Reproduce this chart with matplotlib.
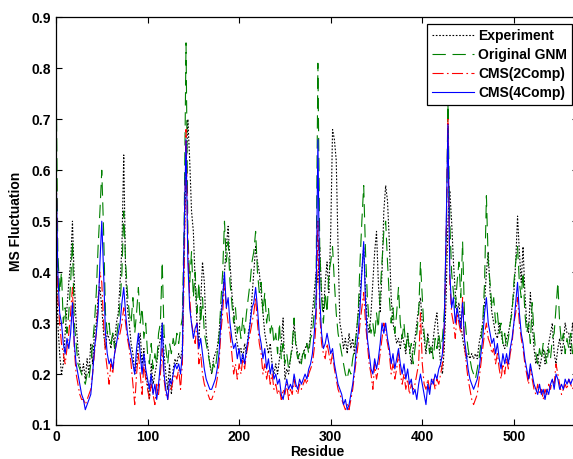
import numpy as np
import matplotlib
matplotlib.use('Agg')
import matplotlib.pyplot as plt

# residue index (every 2nd residue)
residue = np.arange(0, 568, 2)

experiment = [
    .45, .30, .24, .20, .22, .28, .33, .38, .42, .50,
    .38, .30, .25, .22, .20, .22, .19, .23, .20, .26,
    .22, .28, .30, .35, .37, .33, .28, .25, .28, .27,
    .25, .28, .26, .30, .32, .38, .45, .63, .40, .33,
    .30, .26, .24, .20, .22, .26, .28, .22, .25, .20,
    .18, .15, .22, .18, .20, .22, .25, .27, .30, .24,
    .20, .17, .22, .16, .21, .23, .22, .24, .23, .25,
    .45, .60, .70, .62, .52, .48, .38, .30, .26, .34,
    .42, .38, .28, .25, .22, .20, .23, .24, .25, .28,
    .32, .35, .40, .45, .49, .42, .36, .32, .28, .26,
    .24, .25, .23, .26, .24, .28, .30, .35, .40, .45,
    .42, .40, .36, .32, .28, .26, .24, .26, .22, .20,
    .22, .20, .23, .26, .31, .19, .21, .20, .23, .25,
    .30, .26, .24, .22, .23, .24, .25, .26, .25, .28,
    .32, .36, .40, .38, .45, .36, .32, .38, .42, .36,
    .48, .68, .66, .62, .45, .30, .28, .25, .27, .24,
    .28, .25, .27, .24, .28, .32, .36, .40, .45, .36,
    .30, .28, .32, .38, .44, .48, .38, .32, .40, .52,
    .57, .54, .46, .35, .30, .28, .26, .27, .25, .28,
    .26, .24, .28, .25, .22, .25, .27, .30, .33, .35,
    .30, .27, .24, .28, .25, .24, .27, .30, .32, .26,
    .22, .20, .25, .35, .50, .56, .50, .42, .36, .32,
    .34, .30, .27, .25, .23, .24, .23, .24, .23, .24,
    .23, .26, .28, .30, .34, .40, .44, .36, .32, .30,
    .28, .27, .30, .28, .26, .25, .27, .28, .30, .33,
    .36, .42, .51, .44, .38, .45, .36, .30, .28, .36,
    .30, .25, .22, .24, .21, .23, .25, .22, .24, .26,
    .28, .30, .24, .22, .25, .27, .24, .26, .30, .28,
    .28, .24, .30, .27,
]

original_gnm = [
    .82, .44, .36, .40, .30, .33, .28, .32, .38, .46,
    .30, .26, .22, .21, .20, .19, .18, .20, .19, .22,
    .26, .30, .36, .45, .52, .60, .48, .32, .28, .30,
    .26, .28, .25, .27, .30, .34, .40, .52, .42, .36,
    .32, .30, .35, .28, .32, .37, .30, .33, .27, .30,
    .24, .22, .26, .21, .24, .22, .28, .30, .42, .28,
    .25, .22, .26, .24, .27, .25, .28, .26, .29, .31,
    .50, .85, .48, .38, .44, .35, .40, .32, .38, .30,
    .35, .28, .26, .24, .22, .20, .22, .21, .24, .27,
    .34, .40, .50, .42, .46, .38, .34, .30, .33, .28,
    .30, .27, .31, .28, .32, .35, .38, .42, .44, .48,
    .40, .36, .38, .32, .36, .30, .33, .28, .30, .26,
    .28, .24, .30, .23, .26, .22, .24, .21, .23, .26,
    .31, .25, .23, .24, .22, .25, .23, .26, .24, .27,
    .28, .32, .38, .81, .45, .35, .30, .36, .32, .40,
    .42, .45, .38, .32, .28, .26, .24, .22, .20, .19,
    .21, .20, .23, .25, .28, .32, .42, .50, .57, .44,
    .35, .30, .28, .30, .27, .32, .29, .36, .42, .48,
    .50, .42, .35, .30, .33, .28, .32, .37, .30, .27,
    .30, .25, .28, .24, .26, .22, .25, .28, .32, .42,
    .35, .28, .25, .27, .24, .26, .23, .27, .25, .28,
    .25, .27, .32, .45, .73, .50, .40, .36, .33, .38,
    .42, .35, .46, .32, .28, .25, .23, .21, .20, .19,
    .21, .23, .26, .30, .38, .55, .42, .38, .33, .35,
    .30, .32, .28, .30, .26, .28, .25, .27, .30, .32,
    .38, .42, .45, .38, .35, .40, .32, .28, .30, .26,
    .34, .28, .24, .22, .25, .23, .26, .24, .22, .25,
    .23, .27, .28, .33, .38, .30, .26, .28, .24, .27,
    .25, .28, .24, .26,
]

cms_2comp = [
    .66, .35, .30, .26, .24, .22, .25, .28, .32, .37,
    .25, .20, .18, .16, .15, .15, .14, .15, .16, .17,
    .20, .24, .28, .34, .40, .38, .30, .24, .21, .18,
    .22, .20, .24, .26, .27, .28, .30, .33, .30, .27,
    .25, .22, .18, .14, .20, .24, .20, .16, .22, .19,
    .17, .15, .18, .16, .14, .18, .16, .20, .25, .19,
    .16, .15, .18, .17, .19, .20, .19, .21, .17, .22,
    .40, .68, .45, .35, .30, .28, .26, .30, .22, .24,
    .20, .18, .17, .16, .15, .15, .16, .17, .19, .22,
    .28, .32, .38, .33, .30, .28, .24, .20, .22, .19,
    .22, .20, .23, .21, .24, .26, .28, .30, .32, .35,
    .30, .26, .24, .20, .22, .19, .21, .18, .20, .17,
    .18, .16, .17, .15, .17, .16, .18, .15, .17, .16,
    .19, .17, .16, .18, .17, .18, .19, .18, .20, .21,
    .22, .25, .30, .50, .32, .26, .24, .23, .26, .24,
    .22, .24, .21, .19, .17, .16, .15, .14, .13, .14,
    .13, .15, .17, .20, .23, .26, .30, .33, .36, .30,
    .26, .22, .20, .17, .22, .19, .21, .24, .27, .30,
    .28, .26, .24, .20, .22, .19, .21, .24, .20, .18,
    .20, .17, .19, .16, .18, .17, .18, .20, .22, .32,
    .22, .18, .17, .19, .17, .18, .19, .17, .19, .18,
    .20, .22, .28, .45, .70, .38, .32, .30, .27, .32,
    .30, .28, .35, .26, .22, .19, .17, .15, .14, .15,
    .16, .19, .22, .25, .28, .30, .27, .26, .24, .25,
    .22, .24, .21, .19, .22, .20, .23, .21, .24, .26,
    .30, .32, .35, .30, .27, .25, .22, .20, .18, .21,
    .19, .17, .16, .18, .16, .17, .15, .17, .16, .18,
    .17, .19, .18, .22, .20, .18, .16, .17, .18, .17,
    .19, .18, .17, .18,
]

cms_4comp = [
    .62, .40, .32, .30, .26, .24, .27, .25, .28, .34,
    .26, .22, .20, .18, .16, .15, .13, .14, .15, .16,
    .20, .25, .28, .32, .42, .50, .40, .28, .24, .22,
    .23, .21, .24, .26, .28, .30, .34, .37, .32, .28,
    .26, .24, .22, .20, .25, .28, .24, .20, .24, .21,
    .19, .17, .20, .16, .18, .15, .18, .22, .30, .20,
    .17, .15, .19, .18, .20, .22, .21, .22, .20, .24,
    .48, .66, .42, .33, .30, .27, .29, .30, .25, .27,
    .24, .21, .19, .18, .17, .17, .18, .19, .21, .24,
    .30, .35, .40, .33, .35, .30, .27, .25, .26, .23,
    .25, .22, .24, .22, .25, .27, .30, .33, .34, .37,
    .33, .28, .26, .23, .25, .21, .23, .20, .22, .19,
    .20, .18, .19, .16, .15, .17, .19, .17, .18, .17,
    .20, .18, .17, .19, .18, .19, .20, .19, .21, .22,
    .24, .28, .33, .66, .35, .28, .25, .26, .28, .26,
    .24, .25, .22, .20, .18, .17, .16, .14, .15, .13,
    .14, .16, .18, .21, .25, .28, .33, .40, .46, .34,
    .27, .24, .21, .20, .23, .21, .23, .26, .30, .28,
    .30, .27, .25, .22, .24, .21, .23, .25, .22, .20,
    .22, .19, .21, .18, .19, .16, .17, .15, .18, .20,
    .18, .16, .14, .18, .16, .19, .18, .20, .19, .21,
    .22, .24, .30, .48, .69, .40, .33, .35, .30, .33,
    .31, .29, .34, .27, .24, .21, .19, .18, .17, .18,
    .19, .21, .24, .27, .32, .35, .30, .28, .26, .27,
    .24, .26, .23, .21, .24, .22, .24, .22, .25, .27,
    .30, .34, .38, .32, .28, .26, .23, .21, .19, .22,
    .20, .18, .17, .16, .18, .16, .17, .15, .17, .16,
    .18, .19, .17, .20, .19, .17, .18, .17, .19, .18,
    .19, .18, .19, .19,
]

plt.rcParams['font.family'] = ['Liberation Sans', 'DejaVu Sans']
plt.rcParams['font.weight'] = 'bold'

fig = plt.figure(figsize=(5.73, 4.59), dpi=100)
ax = fig.add_axes([0.0977, 0.0741, 0.911, 0.888])

lw = 0.8
ax.plot(residue, experiment, color='black', lw=lw, dashes=(1.5, 1.5), label='Experiment')
ax.plot(residue, original_gnm, color='green', lw=lw, dashes=(12, 6), label='Original GNM')
ax.plot(residue, cms_2comp, color='red', lw=lw, dashes=(10, 3, 1.5, 3), label='CMS(2Comp)')
ax.plot(residue, cms_4comp, color='blue', lw=lw, label='CMS(4Comp)')

ax.set_xlim(0, 570)
ax.set_ylim(0.1, 0.9)
ax.set_xticks([0, 100, 200, 300, 400, 500])
ax.set_yticks(np.arange(0.1, 0.91, 0.1))
ax.set_yticklabels(['%.1f' % v for v in np.arange(0.1, 0.91, 0.1)])
ax.tick_params(direction='in', top=True, right=True, labelsize=10, length=4, width=0.8)
for s in ax.spines.values():
    s.set_linewidth(0.9)

ax.set_xlabel('Residue', fontsize=10, fontweight='bold', labelpad=1)
ax.set_ylabel('MS Fluctuation', fontsize=10, fontweight='bold', labelpad=6)

leg = ax.legend(loc='upper left', bbox_to_anchor=(427 / 573, 1 - 24.3 / 459),
                bbox_transform=fig.transFigure, fontsize=10, handlelength=3.0,
                handletextpad=0.35, labelspacing=0.35, borderpad=0.35,
                borderaxespad=0, fancybox=False, framealpha=1, edgecolor='black')
leg.get_frame().set_linewidth(0.9)

fig.savefig('out.png', dpi=100)
